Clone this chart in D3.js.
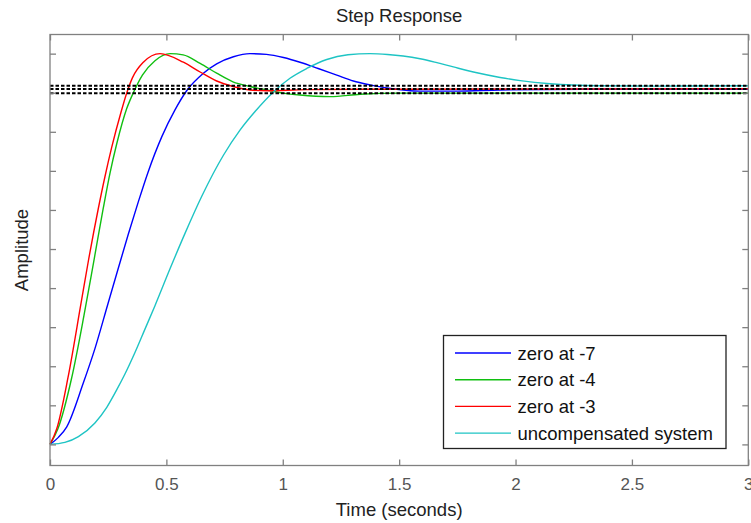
<!DOCTYPE html>
<html>
<head>
<meta charset="utf-8">
<script src="https://cdn.jsdelivr.net/npm/d3@7"></script>
<style>
body { margin: 0; background: #fff; }
text { font-family: "Liberation Sans", Arial, sans-serif; }
</style>
</head>
<body>
<script>
// step responses (time in s, amplitude)
var seriesNames = ["zero at -7", "zero at -4", "zero at -3", "uncompensated system"];
var seriesColors = ["#0000ff", "#10bf10", "#ff0000", "#1ec4c4"];

var blueT = [0, .036, .072, .143, .193, .249, .294, .336, .379, .422, .48, .537, .587, .659, .716, .788, .859, .93, 1.003, 1.074, 1.152, 1.232, 1.303, 1.375, 1.447, 1.518, 1.59, 1.75, 1.934, 2.36, 3];
var blueY = [0, .018, .045, .157, .245, .36, .452, .537, .62, .698, .787, .856, .905, .95, .974, .992, 1.0, .998, .99, .978, .962, .945, .93, .92, .912, .907, .904, .904, .907, .909, .909];

var greenT = [0, .034, .093, .146, .19, .229, .258, .287, .33, .362, .397, .451, .516, .572, .645, .716, .786, .859, .931, 1.001, 1.074, 1.203, 1.332, 1.5, 2, 3];
var greenY = [0, .04, .17, .33, .475, .605, .695, .77, .86, .905, .945, .982, 1.0, .997, .975, .95, .928, .916, .907, .899, .894, .89, .896, .899, .899, .899];

var redT = [0, .029, .077, .133, .165, .208, .236, .265, .305, .33, .354, .401, .473, .573, .645, .716, .786, .859, .931, 1.1, 1.5, 3];
var redY = [0, .04, .17, .36, .47, .605, .685, .76, .85, .9, .938, .978, 1.0, .978, .953, .93, .916, .907, .905, .908, .909, .910];

var cyanT = [0, .064, .122, .193, .244, .287, .322, .365, .408, .451, .516, .58, .652, .745, .817, .881, .96, 1.031, 1.103, 1.189, 1.28, 1.375, 1.45, 1.517, 1.59, 1.662, 1.733, 1.834, 1.934, 2.02, 2.149, 2.364, 2.6, 3];
var cyanY = [0, .005, .02, .055, .095, .14, .18, .235, .295, .355, .45, .54, .635, .74, .805, .852, .902, .937, .962, .985, .997, 1.0, .998, .994, .987, .977, .966, .951, .939, .931, .923, .918, .917, .918];

var steadyStates = [0.918, 0.9097, 0.8987];
var xTicks = [0, 0.5, 1, 1.5, 2, 2.5, 3];
var yTicks = [0, .1, .2, .3, .4, .5, .6, .7, .8, .9, 1.0];

var W = 751, H = 523;
var pLeft = 50, pRight = 748.3, pTop = 34.5, pBottom = 465.5;//plot box edges

var svg = d3.select("body").append("svg")
    .attr("width", W).attr("height", H);

var x = d3.scaleLinear().domain([0, 3]).range([pLeft, pRight]);
var y = d3.scaleLinear().domain([-0.054, 1.049]).range([pBottom, pTop]);

var series = [
    {t: blueT, v: blueY},
    {t: greenT, v: greenY},
    {t: redT, v: redY},
    {t: cyanT, v: cyanY}
];

var line = d3.line()
    .x(function (d) { return x(d[0]); })
    .y(function (d) { return y(d[1]); })
    .curve(d3.curveMonotoneX);

var plot = svg.append("g");
series.forEach(function (s, i) {
    var pts = s.t.map(function (t, j) { return [t, s.v[j]]; });
    plot.append("path")
        .attr("d", line(pts))
        .attr("fill", "none")
        .attr("stroke", seriesColors[i])
        .attr("stroke-width", 1.4);
});

// steady state lines
steadyStates.forEach(function (v) {
    plot.append("line")
        .attr("x1", pLeft).attr("x2", pRight)
        .attr("y1", y(v)).attr("y2", y(v))
        .attr("stroke", "#000")
        .attr("stroke-width", 2)
        .attr("stroke-dasharray", "3.5,2");
});

// axes box with inward ticks on all sides
var axColor = "#808080";
svg.append("rect")
    .attr("x", pLeft).attr("y", pTop)
    .attr("width", pRight - pLeft).attr("height", pBottom - pTop)
    .attr("fill", "none").attr("stroke", axColor).attr("stroke-width", 1.3);

var xAxis = d3.axisBottom(x).tickValues(xTicks).tickSize(-6).tickPadding(12)
    .tickFormat(d3.format("~g"));
var gx = svg.append("g").attr("transform", "translate(0," + pBottom + ")").call(xAxis);
gx.select(".domain").remove();
gx.selectAll("line").attr("stroke", axColor).attr("stroke-width", 1.3);
gx.selectAll("text").attr("fill", "#555").style("font-size", "17px")
    .style("font-family", "'Liberation Sans', Arial, sans-serif");

var gxt = svg.append("g").attr("transform", "translate(0," + pTop + ")")
    .call(d3.axisTop(x).tickValues(xTicks).tickSize(-6).tickFormat(""));
gxt.select(".domain").remove();
gxt.selectAll("line").attr("stroke", axColor).attr("stroke-width", 1.3);

var gyl = svg.append("g").attr("transform", "translate(" + pLeft + ",0)")
    .call(d3.axisLeft(y).tickValues(yTicks).tickSize(-6).tickFormat(""));
gyl.select(".domain").remove();
gyl.selectAll("line").attr("stroke", axColor).attr("stroke-width", 1.3);

var gyr = svg.append("g").attr("transform", "translate(" + pRight + ",0)")
    .call(d3.axisRight(y).tickValues(yTicks).tickSize(-6).tickFormat(""));
gyr.select(".domain").remove();
gyr.selectAll("line").attr("stroke", axColor).attr("stroke-width", 1.3);

// labels
svg.append("text")
    .attr("x", (pLeft + pRight) / 2).attr("y", 22)
    .attr("text-anchor", "middle").style("font-size", "18.5px").attr("fill", "#222")
    .text("Step Response");
svg.append("text")
    .attr("x", (pLeft + pRight) / 2).attr("y", 516)
    .attr("text-anchor", "middle").style("font-size", "18.5px").attr("fill", "#222")
    .text("Time (seconds)");
svg.append("text")
    .attr("transform", "translate(28," + ((pTop + pBottom) / 2) + ") rotate(-90)")
    .attr("text-anchor", "middle").style("font-size", "18.5px").attr("fill", "#222")
    .text("Amplitude");

// legend
var lg = svg.append("g");
lg.append("rect")
    .attr("x", 443.5).attr("y", 335.5).attr("width", 282.5).attr("height", 113)
    .attr("fill", "#fff").attr("stroke", "#222").attr("stroke-width", 1.3);
seriesNames.forEach(function (name, i) {
    var cy = 353 + i * 26.7;
    lg.append("line")
        .attr("x1", 455).attr("x2", 511).attr("y1", cy).attr("y2", cy)
        .attr("stroke", seriesColors[i]).attr("stroke-width", 1.4);
    lg.append("text")
        .attr("x", 517.5).attr("y", cy + 6.5)
        .style("font-size", "18.5px").attr("fill", "#111")
        .text(name);
});
</script>
</body>
</html>
